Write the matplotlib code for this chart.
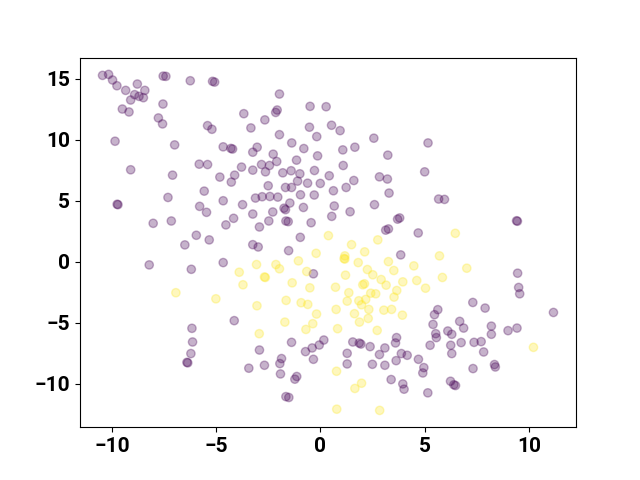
import numpy as np
import matplotlib
matplotlib.use('Agg')
from matplotlib import pyplot as plt

plt.rcParams['font.family'] = ['Roboto', 'DejaVu Sans']
plt.rcParams['font.weight'] = 'bold'

# class 0 (purple)
x0 = [-10.46, -10.17, -9.98, -9.77, -9.35, -8.79, -8.43, -8.92, -8.71, -8.50, -9.11, -9.51, -9.19,
      -7.55, -7.42, -6.25, -5.18, -5.08, -7.56, -7.78, -7.58, -5.42, -5.21, -3.68, -9.86, -7.00,
      -4.67, -4.30, -4.22, -9.11, -5.82, -5.42, -7.10, -4.83, -4.12, -3.79, -4.28,
      -9.76, -9.72, -7.32, -5.58, -5.80, -5.47, -4.67, -3.74, -8.03, -7.16, -4.17, -4.54, -5.96,
      -5.34, -6.51, -8.22, -6.20, -4.67,
      -6.17, -6.14, -6.22, -6.41, -6.37, -4.14,
      -1.97, -2.08, -2.15, -3.34, -2.67, -0.50, 0.27, -0.53, 0.53, 0.94, -1.97, -0.18, 2.56, -1.38,
      -3.04, -3.25, -0.80, 1.07, 1.65, 3.23, -2.27, -2.10, -0.14, -1.15, 1.09, -2.83, -2.45, -3.25,
      -2.64, -1.81, -1.41, -0.99, -0.29, 0.42, 2.83, 3.21, 1.60, -1.10, -0.62, -0.01,
      -2.51, -1.68, -1.39, 1.23, 0.62, -3.12, -2.80, -2.43, -2.05, -0.96, -0.30, 3.29, -1.47, -1.75,
      -1.68, -2.29, -3.25, -0.82, 0.66, 1.42, 2.59, 0.54, -1.66, -1.55, -2.48, -2.93, -0.45, 3.70,
      3.80, 3.13, 3.26, -0.97, -3.25, -2.99, -1.53, 3.85, -0.34,
      -1.39, -2.93, -0.72, -0.40, -0.06, 0.16, -0.34, -1.87, -1.95, -2.69, -3.44, -1.92, -1.14, -1.23,
      -1.66, -1.52, 1.55, 1.86, 1.94, 2.38, 1.28, 1.28, 2.49, 3.09, 2.83, 3.09, 3.65, 3.60, 3.88,
      4.16, 3.63, 3.39, 3.95, 4.01,
      7.90, 5.63, 5.47, 11.18, 5.40, 6.68, 6.87, 8.20, 8.20, 9.00, 9.43, 6.11, 6.30, 5.53, 5.56,
      5.26, 6.25, 6.75, 7.37, 7.71, 6.30, 7.83, 4.70, 4.96, 4.91, 7.32, 8.35, 8.39, 6.24, 6.40,
      6.48, 5.15,
      5.67, 5.95, 9.41, 9.45, 4.69, 9.46, 9.51, 9.56, 7.31, 5.16, 5.00]
y0 = [15.29, 15.37, 14.91, 14.44, 14.06, 14.58, 14.06, 13.71, 13.57, 13.46, 13.27, 12.53, 12.29,
      15.23, 15.21, 14.85, 14.80, 14.74, 12.94, 11.80, 11.31, 11.17, 10.87, 12.15, 9.89, 9.59,
      9.43, 9.30, 9.25, 7.55, 8.01, 7.98, 7.11, 6.95, 7.11, 7.77, 6.54,
      4.72, 4.69, 5.28, 5.80, 4.55, 4.06, 5.01, 4.69, 3.16, 3.35, 3.57, 3.03, 2.18,
      1.80, 1.39, -0.25, -0.61, -0.06,
      -5.45, -6.57, -7.52, -8.24, -8.28, -4.82,
      13.76, 12.45, 12.25, 10.98, 11.64, 12.75, 12.72, 11.04, 11.20, 10.76, 10.43, 10.27, 10.14, 9.75,
      9.40, 8.99, 9.29, 9.18, 9.40, 8.75, 8.83, 8.23, 8.69, 8.34, 7.90, 7.98, 7.90, 7.52,
      7.38, 7.30, 7.47, 7.22, 7.49, 7.06, 6.97, 6.79, 6.67, 6.62, 6.45, 6.43,
      6.24, 6.10, 6.10, 6.10, 5.83, 5.23, 5.34, 5.36, 5.31, 5.50, 5.48, 5.64, 4.82, 4.40,
      4.28, 4.09, 3.92, 4.46, 4.58, 4.11, 4.69, 3.73, 3.35, 3.30, 3.35, 2.86, 3.21, 3.50,
      3.60, 2.60, 2.70, 2.01, 1.41, 1.22, 0.92, 0.57, -0.98,
      -6.60, -7.23, -7.36, -7.06, -6.82, -6.41, -7.99, -7.93, -8.34, -8.48, -8.72, -9.19, -9.40, -9.62,
      -11.05, -11.12, -6.57, -6.66, -6.74, -6.95, -7.50, -8.37, -8.40, -8.48, -7.60, -7.06, -6.21, -6.65, -7.52,
      -7.66, -8.10, -9.65, -10.01, -10.44,
      -3.79, -3.92, -4.33, -4.15, -5.13, -4.88, -5.43, -5.27, -5.94, -5.64, -5.43, -5.67, -5.94, -5.89, -6.21,
      -6.84, -6.84, -6.62, -6.60, -6.54, -7.52, -7.39, -7.99, -8.67, -9.11, -8.75, -8.42, -8.62, -9.79, -10.08,
      -10.14, -10.74,
      5.15, 5.12, 3.37, 3.33, 2.37, -0.93, -2.10, -2.62, -3.33, 9.75, 7.38]

# class 1 (yellow)
x1 = [-3.90, -3.72, -6.94, -5.02,
      0.38, 1.49, 2.75, -0.21, 1.17, 1.13, 1.17, 2.12, 1.81, 3.26, -1.06, -3.07, -2.14, -1.97, -0.66,
      2.25, 3.52, -2.69, -2.65, 1.20, 2.51, 2.91, -1.36, -0.51, 0.72, 2.11, 2.03, 3.15, 3.95, 1.36,
      2.41, 2.65, 3.66, 3.53, -1.65, -0.93, 1.28, 1.84, 2.17, -3.05, -0.61, 1.97,
      -0.19, 0.75, 1.63, 2.32, 3.04, 3.41, 3.93, -1.71, -0.37, -0.70, 1.87, 2.29, 0.82, 2.72, -2.94,
      0.77, 1.97, 1.65, 0.78, 2.84,
      10.22, 6.47, 5.71, 4.48, 7.02, 4.62, 5.85, 5.04]
y1 = [-0.85, -1.88, -2.53, -3.03,
      2.15, 1.41, 1.80, 0.70, 0.49, 0.27, 0.23, 0.82, -0.06, 0.02, 0.08, -0.22, -0.22, -0.57, -0.79,
      -0.63, -0.71, -1.24, -1.28, -1.09, -1.06, -1.45, -1.72, -2.13, -2.08, -1.80, -1.88, -1.91, -1.64, -2.53,
      -2.57, -2.62, -2.35, -2.89, -3.16, -3.35, -3.22, -3.19, -3.08, -3.60, -3.49, -3.52,
      -4.28, -3.90, -4.25, -3.90, -3.96, -3.90, -4.37, -4.94, -5.07, -5.54, -4.94, -4.64, -5.48, -5.62, -5.89,
      -8.97, -9.95, -10.38, -12.08, -12.18,
      -7.01, 2.34, 0.49, -0.33, -0.52, -1.53, -1.28, -2.16]

xs = np.array(x0 + x1)
ys = np.array(y0 + y1)
labels = np.array([0] * len(x0) + [1] * len(x1))

fig = plt.figure(figsize=(6.4, 4.8), dpi=100)
plt.scatter(xs, ys, c=labels, cmap='viridis', alpha=0.3)
plt.xticks(fontsize=15, fontweight='bold')
plt.yticks(fontsize=15, fontweight='bold')
plt.savefig('out.png')
